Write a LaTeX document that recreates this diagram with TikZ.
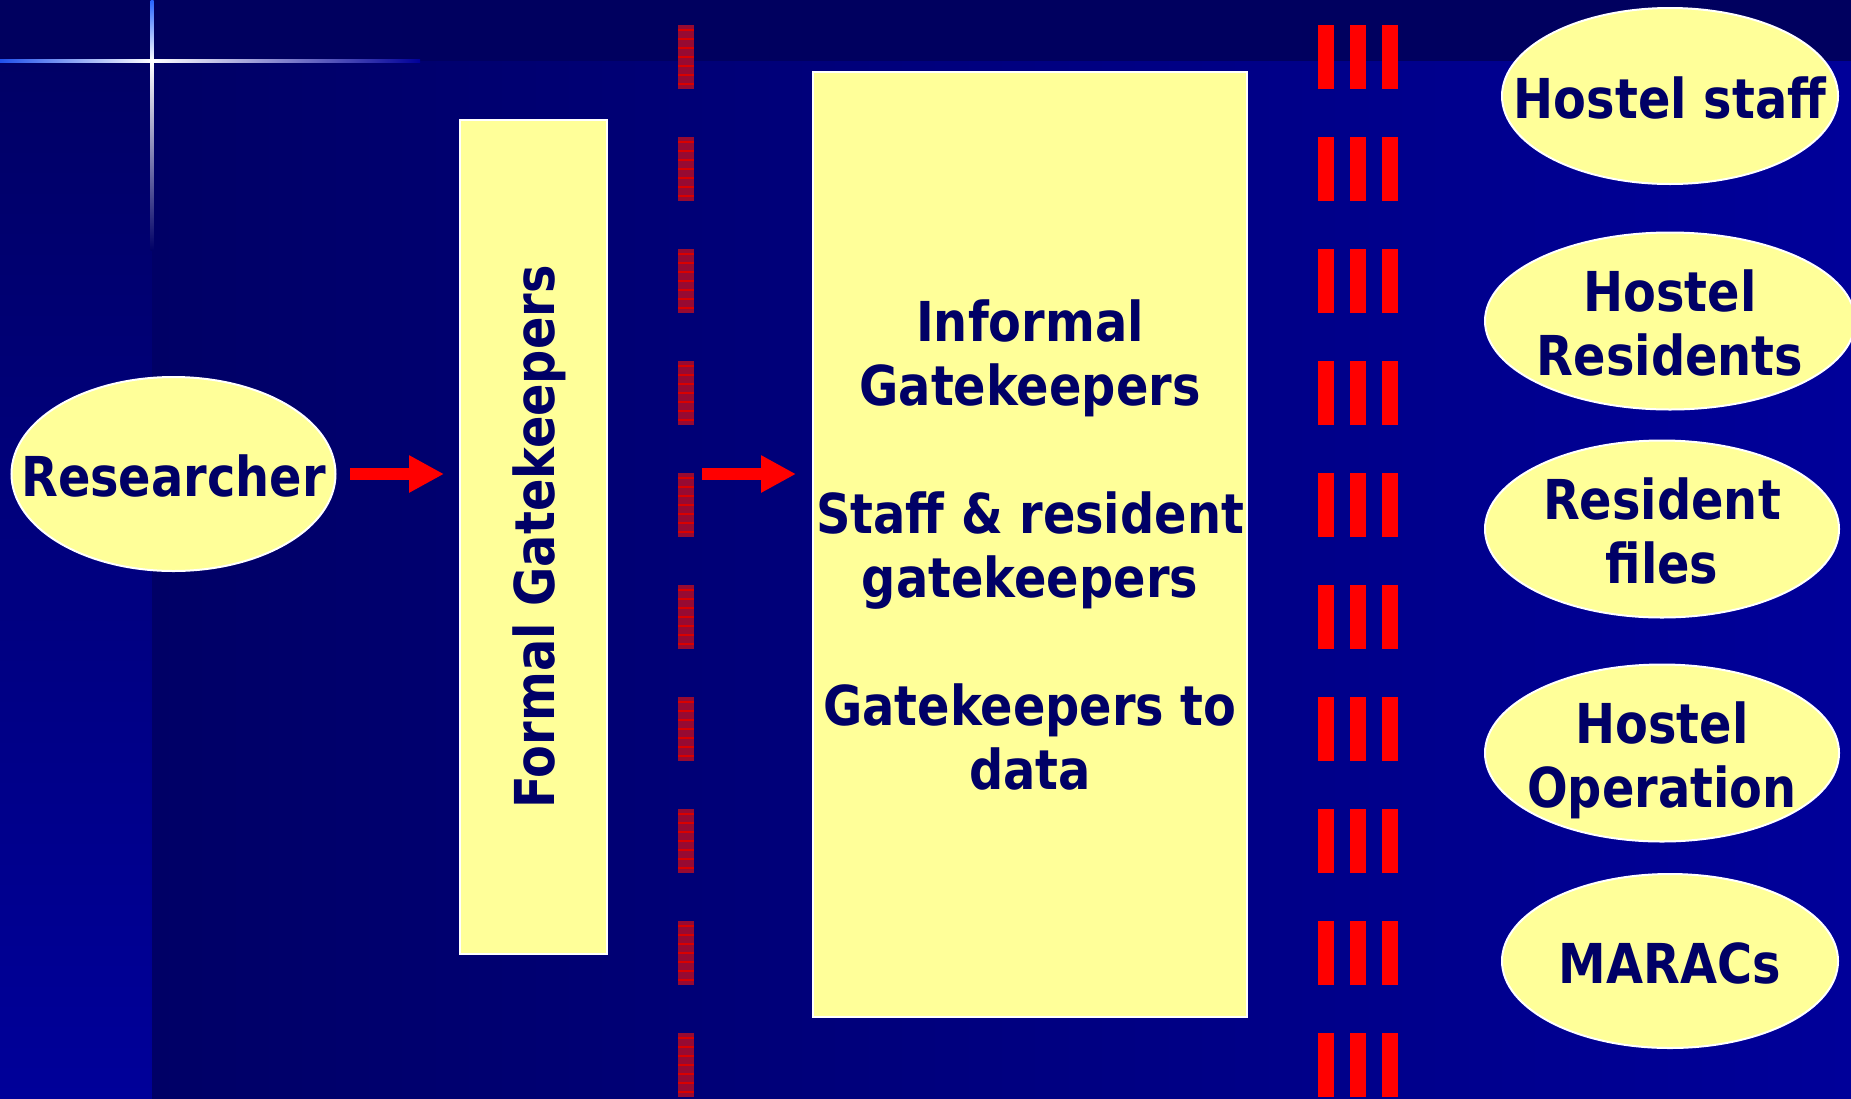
\documentclass[tikz,border=0pt]{standalone}
\usepackage{fontspec}
\setmainfont{DejaVu Sans}[FakeStretch=0.87]
\usetikzlibrary{arrows.meta,shapes.geometric}
\definecolor{slidenavy}{RGB}{0,0,102}
\definecolor{slideblue}{RGB}{0,0,153}
\definecolor{slidetop}{RGB}{0,0,95}
\definecolor{paleyellow}{RGB}{255,255,153}
\definecolor{wallred}{RGB}{150,10,50}
\definecolor{glowblue}{RGB}{40,100,255}
\newcommand{\bubtext}[1]{\makebox[0pt]{\raisebox{\dimexpr(\depth-\height)/2-5pt\relax}[0pt][0pt]{\begin{tabular}{@{}c@{}}#1\end{tabular}}}}

\begin{document}
\begin{tikzpicture}[x=0.5pt,y=-0.5pt,
  panel/.style={draw=white, line width=1pt, fill=paleyellow, text=slidenavy,
    font=\bfseries\fontsize{27.5}{32}\selectfont, align=center, inner sep=0pt},
  bubble/.style={panel, ellipse},
  pusharrow/.style={red, line width=6pt, -{Triangle[length=17.5pt,width=17.5pt]}}]
  \useasboundingbox (0,0) rectangle (1851,1098);
  \clip (0,0) rectangle (1851,1098);
  % background
  \fill[slidetop] (0,0) rectangle (1851,61);
  \shade[top color=slidenavy, bottom color=slideblue] (0,61) rectangle (152,1098);
  \shade[left color=slidenavy, right color=slideblue] (152,61) rectangle (1851,1098);
  \shade[top color=glowblue, bottom color=white] (150.5,0) rectangle (153.5,61);
  \shade[top color=white, middle color=glowblue, bottom color=slidenavy] (150.5,61) rectangle (153.5,250);
  \shade[left color=glowblue!80!slideblue, right color=white] (0,59.5) rectangle (152,62.5);
  \shade[left color=white, middle color=glowblue, right color=slideblue] (152,59.5) rectangle (420,62.5);

  % walls
  \foreach \k in {0,...,9} {
    \fill[wallred] (678,25+112*\k) rectangle (694,89+112*\k);
    \foreach \j in {0,...,6}
      \draw[red!85!black, line width=0.6pt] (678,30+112*\k+9*\j) -- (694,30+112*\k+9*\j);
    \foreach \s in {1318,1350,1382}
      \fill[red] (\s,25+112*\k) rectangle (\s+16,89+112*\k);
  }
  \coordinate (wall) at (686,474);

  % nodes
  \node[bubble, minimum width=162pt, minimum height=97pt] (researcher) at (173.5,474) {\bubtext{Researcher}};
  \node[panel, minimum width=73.5pt, minimum height=417pt] (formal) at (533.5,537)
    {\rotatebox{90}{\raisebox{0pt}[\height][0pt]{Formal Gatekeepers}}};
  \node[panel, minimum width=217pt, minimum height=472.5pt] (informal) at (1030,544.5)
    {Informal\\Gatekeepers\\[32pt]Staff \& resident\\gatekeepers\\[32pt]Gatekeepers to\\data};

  \node[bubble, minimum width=168pt, minimum height=88pt] (staff) at (1670,96) {\bubtext{Hostel staff}};
  \node[bubble, minimum width=185pt, minimum height=88.5pt] (residents) at (1670,321) {\bubtext{Hostel\\Residents}};
  \node[bubble, minimum width=177pt, minimum height=88.5pt] (files) at (1662,529) {\bubtext{Resident\\files}};
  \node[bubble, minimum width=177pt, minimum height=88.5pt] (operation) at (1662,753) {\bubtext{Hostel\\Operation}};
  \node[bubble, minimum width=168pt, minimum height=87pt] (maracs) at (1670,961) {\bubtext{MARACs}};

  % arrows
  \draw[pusharrow, shorten <=6.75pt, shorten >=7.5pt] (researcher.east) -- (formal.west |- researcher.east);
  \draw[pusharrow, shorten <=8pt, shorten >=8pt] (wall) -- (wall -| informal.west);
\end{tikzpicture}
\end{document}
